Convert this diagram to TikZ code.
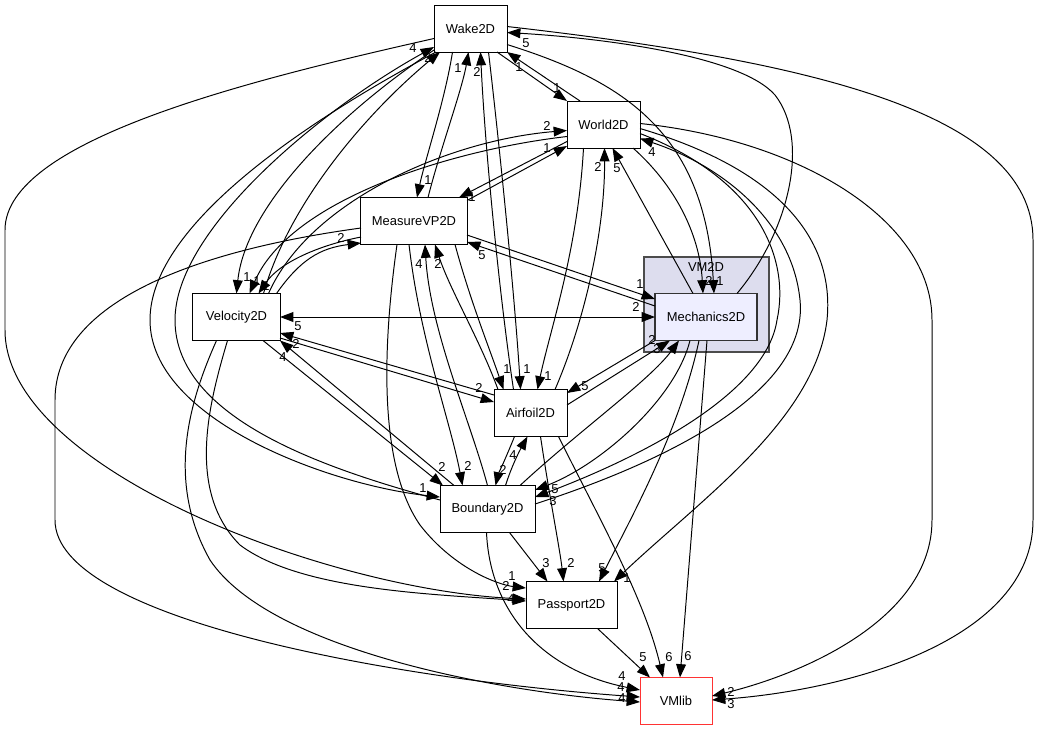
\documentclass[tikz,border=0pt]{standalone}
\usepackage{fontspec}
\setmainfont{Liberation Sans}
\usetikzlibrary{arrows.meta,calc}
\definecolor{clusterfill}{HTML}{DDDDEE}
\definecolor{mechfill}{HTML}{EEEEFF}
\definecolor{libred}{HTML}{FF3333}
\begin{document}
\begin{tikzpicture}[x=0.025cm, y=-0.025cm,
    box/.style={draw, line width=0.7pt, fill=white, minimum height=1.175cm, inner sep=0pt, outer sep=0pt, font=\fontsize{9.2}{11}\selectfont},
    dep/.style={line width=0.7pt, -{Triangle[length=9.5pt,width=7pt]}},
    lbl/.style={inner sep=0pt, font=\fontsize{9.2}{11}\selectfont}]
\useasboundingbox (0,0) rectangle (1039,731);
\draw[line width=1.3pt, draw=black!70, fill=clusterfill] (644,257) rectangle (769,352);
\node[lbl] (vm2d) at (706,267) {VM2D};
\node[box, minimum width=1.825cm] (W) at (470.5,28.5) {Wake2D};
\node[box, minimum width=1.825cm] (Wo) at (603.5,124.5) {World2D};
\node[box, minimum width=2.65cm] (M) at (414,221) {MeasureVP2D};
\node[box, minimum width=2.175cm] (V) at (236.5,317) {Velocity2D};
\node[box, minimum width=2.55cm, fill=mechfill, line width=1.3pt, draw=black!80] (Me) at (706,317) {Mechanics2D};
\node[box, minimum width=1.825cm] (A) at (530.5,413) {Airfoil2D};
\node[box, minimum width=2.375cm] (B) at (487.5,509) {Boundary2D};
\node[box, minimum width=2.275cm] (P) at (571.5,605) {Passport2D};
\node[box, minimum width=1.8cm, draw=libred] (L) at (676,701) {VMlib};

% Wake2D
\draw[dep] ($(W.south east)+(-10,0)$) -- (Wo.north west);
\draw[dep] ($(W.south)+(-18,0)$) .. controls (445,100) and (425,160) .. ($(M.north)+(3,0)$);
\draw[dep] ($(W.south)+(18,0)$) .. controls (500,150) and (515,300) .. ($(A.north)+(-10,0)$);
\draw[dep] ($(W.west)+(0,10)$) .. controls (250,80) and (5,140) .. (5,230) -- (5,330) .. controls (5,470) and (330,590) .. ($(P.west)+(0,-6)$);
\draw[dep] ($(W.south west)+(0,-2)$) .. controls (330,120) and (245,210) .. (V.north);
\draw[dep] ($(W.south west)+(2,0)$) .. controls (290,130) and (150,230) .. (150,320) .. controls (150,420) and (330,485) .. ($(B.west)+(0,-12)$);
\draw[dep] ($(W.east)+(0,16)$) .. controls (620,80) and (705,130) .. ($(Me.north)+(8,0)$);
\draw[dep] ($(W.east)+(0,-2)$) .. controls (800,60) and (1033,110) .. (1033,240) -- (1033,520) .. controls (1033,640) and (850,690) .. ($(L.east)+(0,-1)$);
% World2D
\draw[dep] ($(Wo.north west)+(13,0)$) -- (W.south east);
\draw[dep] ($(Wo.west)+(0,12)$) .. controls (450,150) and (290,200) .. ($(V.north)+(13,0)$);
\draw[dep] ($(Wo.west)+(0,17)$) -- ($(M.north east)+(-8,0)$);
\draw[dep] ($(Wo.south)+(-20,0)$) .. controls (578,250) and (550,330) .. ($(A.north)+(7,0)$);
\draw[dep] ($(Wo.south east)+(-7,0)$) .. controls (680,190) and (700,240) .. ($(Me.north)+(-3,0)$);
\draw[dep] ($(Wo.east)+(0,9)$) .. controls (760,180) and (790,260) .. (777,320) .. controls (765,400) and (620,465) .. ($(B.east)+(0,-12)$);
\draw[dep] ($(Wo.east)+(0,4)$) .. controls (780,170) and (835,240) .. (827,320) .. controls (815,420) and (700,500) .. ($(P.north east)+(-3,0)$);
\draw[dep] ($(Wo.east)+(0,-1)$) .. controls (800,140) and (932,220) .. (932,320) -- (932,520) .. controls (932,620) and (800,675) .. ($(L.east)+(0,-5)$);
% MeasureVP2D
\draw[dep] ($(M.north)+(14,0)$) .. controls (440,150) and (462,90) .. ($(W.south)+(-2,0)$);
\draw[dep] ($(M.north east)+(0,3)$) -- ($(Wo.south west)+(0,-2)$);
\draw[dep] ($(M.west)+(0,16)$) .. controls (320,245) and (280,262) .. ($(V.north)+(22,0)$);
\draw[dep] ($(M.west)+(0,7)$) .. controls (200,250) and (55,300) .. (55,400) -- (55,520) .. controls (55,620) and (400,680) .. ($(L.west)+(0,-4)$);
\draw[dep] ($(M.east)+(0,14)$) -- ($(Me.west)+(0,-18)$);
\draw[dep] ($(M.south east)+(-12,0)$) .. controls (470,300) and (490,350) .. ($(A.north)+(-27,0)$);
\draw[dep] ($(M.south)+(-5,0)$) .. controls (420,340) and (450,420) .. ($(B.north)+(-25,0)$);
\draw[dep] ($(M.south)+(-17,0)$) .. controls (385,330) and (375,460) .. (420,525) .. controls (455,570) and (500,585) .. ($(P.west)+(0,-17)$);
% Velocity2D
\draw[dep] ($(V.north)+(27,0)$) .. controls (290,200) and (370,110) .. ($(W.south west)+(6,0)$);
\draw[dep] ($(V.north)+(32,0)$) .. controls (310,200) and (450,140) .. ($(Wo.west)+(0,6)$);
\draw[dep] ($(V.north)+(40,0)$) .. controls (300,260) and (320,248) .. ($(M.west)+(0,22)$);
\draw[{Triangle[length=9.5pt,width=7pt]}-{Triangle[length=9.5pt,width=7pt]}, line width=0.7pt] (V.east) -- (Me.west);
\draw[dep] ($(V.east)+(0,21)$) -- ($(A.west)+(0,-11)$);
\draw[dep] ($(V.south east)+(-17,0)$) -- ($(B.north west)+(3,0)$);
\draw[dep] ($(V.south)+(-9,0)$) .. controls (210,400) and (185,490) .. (240,545) .. controls (300,590) and (430,594) .. ($(P.west)+(0,-4)$);
\draw[dep] ($(V.south)+(-20,0)$) .. controls (190,400) and (165,480) .. (210,560) .. controls (270,650) and (500,692) .. ($(L.west)+(0,1)$);
% Mechanics2D
\draw[dep] ($(Me.north east)+(-20,0)$) .. controls (790,230) and (810,140) .. (775,95) .. controls (740,55) and (600,38) .. ($(W.east)+(0,4)$);
\draw[dep] ($(Me.north)+(-13,0)$) -- ($(Wo.south)+(9,0)$);
\draw[dep] ($(Me.west)+(0,-11)$) -- ($(M.east)+(0,21)$);
\draw[dep] (Me.south west) -- ($(A.east)+(0,-20)$);
\draw[dep] ($(Me.south)+(-16,0)$) .. controls (675,400) and (600,465) .. ($(B.east)+(0,-19)$);
\draw[dep] ($(Me.south)+(-7,0)$) .. controls (680,430) and (630,520) .. ($(P.north east)+(-18,0)$);
\draw[dep] ($(Me.south)+(1,0)$) -- ($(L.north)+(4,0)$);
% Airfoil2D
\draw[dep] ($(A.north)+(-17,0)$) .. controls (500,300) and (485,150) .. ($(W.south)+(10,0)$);
\draw[dep] ($(A.north east)+(-12,0)$) .. controls (585,320) and (605,230) .. ($(Wo.south)+(1,0)$);
\draw[dep] ($(A.north west)+(4,0)$) .. controls (480,340) and (450,290) .. ($(M.south)+(21,0)$);
\draw[dep] ($(A.west)+(0,-18)$) -- ($(V.east)+(0,16)$);
\draw[dep] ($(A.east)+(0,-8)$) -- ($(Me.south west)+(15,0)$);
\draw[dep] ($(A.south)+(-16,0)$) .. controls (505,460) and (498,475) .. ($(B.north)+(8,0)$);
\draw[dep] ($(A.south)+(10,0)$) .. controls (550,500) and (560,550) .. ($(P.north)+(-8,0)$);
\draw[dep] ($(A.south)+(28,0)$) .. controls (600,520) and (645,600) .. ($(L.north)+(-13,0)$);
% Boundary2D
\draw[dep] ($(B.west)+(0,-9)$) .. controls (330,470) and (175,420) .. (175,320) .. controls (175,230) and (320,110) .. ($(W.south west)+(0,-5)$);
\draw[dep] ($(B.east)+(0,-5)$) .. controls (640,470) and (810,400) .. (800,300) .. controls (792,220) and (720,165) .. ($(Wo.east)+(0,14)$);
\draw[dep] (B.north) .. controls (470,420) and (430,330) .. ($(M.south)+(11,0)$);
\draw[dep] ($(B.north west)+(14,0)$) -- (V.south east);
\draw[dep] ($(B.north)+(18,0)$) .. controls (512,465) and (520,450) .. ($(A.south)+(-3,0)$);
\draw[dep] ($(B.north east)+(-15,0)$) .. controls (580,430) and (650,380) .. ($(Me.south west)+(24,0)$);
\draw[dep] ($(B.south)+(22,0)$) -- ($(P.north)+(-24,0)$);
\draw[dep] ($(B.south)+(-1,0)$) .. controls (490,610) and (540,670) .. ($(L.west)+(0,-11)$);
% Passport2D
\draw[dep] ($(P.south)+(26,0)$) -- ($(L.north)+(-26,0)$);

% labels
\node[lbl] (lwwo) at (557,88) {1};
\node[lbl] (lwm) at (428,180) {1};
\node[lbl] (lwa) at (527,369) {1};
\node[lbl] (lwp) at (511,599) {4};
\node[lbl] (lwv) at (247,277) {1};
\node[lbl] (lwb) at (423,488) {1};
\node[lbl] (lwme) at (720,281) {1};
\node[lbl] (lwl) at (731,704) {3};
\node[lbl] (lwow) at (519,67) {1};
\node[lbl] (lwov) at (257,281) {1};
\node[lbl] (lwom) at (472,197) {1};
\node[lbl] (lwoa) at (548,376) {1};
\node[lbl] (lwome) at (709,281) {2};
\node[lbl] (lwob) at (553,501) {3};
\node[lbl] (lwop) at (627,578) {1};
\node[lbl] (lwol) at (731,692) {2};
\node[lbl] (lmw) at (458,68) {1};
\node[lbl] (lmwo) at (547,148) {1};
\node[lbl] (lmv) at (266,286) {1};
\node[lbl] (lml) at (621,687) {4};
\node[lbl] (lmme) at (640,284) {1};
\node[lbl] (lma) at (507,369) {1};
\node[lbl] (lmb) at (468,466) {2};
\node[lbl] (lmp) at (512,576) {1};
\node[lbl] (lvw) at (428,58) {2};
\node[lbl] (lvwo) at (547,126) {2};
\node[lbl] (lvm) at (341,238) {2};
\node[lbl] (lvme) at (636,307) {2};
\node[lbl] (lmev) at (298,326) {5};
\node[lbl] (lva) at (479,388) {2};
\node[lbl] (lvb) at (442,467) {2};
\node[lbl] (lvp) at (506,586) {2};
\node[lbl] (lvl) at (622,698) {4};
\node[lbl] (lmew) at (526,43) {5};
\node[lbl] (lmewo) at (617,168) {5};
\node[lbl] (lmem) at (482,255) {5};
\node[lbl] (lmea) at (585,386) {5};
\node[lbl] (lmeb) at (555,489) {5};
\node[lbl] (lmep) at (602,568) {5};
\node[lbl] (lmel) at (688,656) {6};
\node[lbl] (law) at (477,72) {2};
\node[lbl] (lawo) at (598,167) {2};
\node[lbl] (lam) at (438,264) {2};
\node[lbl] (lav) at (296,344) {2};
\node[lbl] (lame) at (652,340) {2};
\node[lbl] (lab) at (503,470) {2};
\node[lbl] (lap) at (571,563) {2};
\node[lbl] (lal) at (669,657) {6};
\node[lbl] (lbw) at (413,48) {4};
\node[lbl] (lbwo) at (652,152) {4};
\node[lbl] (lbm) at (419,264) {4};
\node[lbl] (lbv) at (283,357) {4};
\node[lbl] (lba) at (513,455) {4};
\node[lbl] (lbme) at (657,349) {3};
\node[lbl] (lbp) at (546,563) {3};
\node[lbl] (lbl) at (622,676) {4};
\node[lbl] (lpl) at (643,657) {5};
\end{tikzpicture}
\end{document}
